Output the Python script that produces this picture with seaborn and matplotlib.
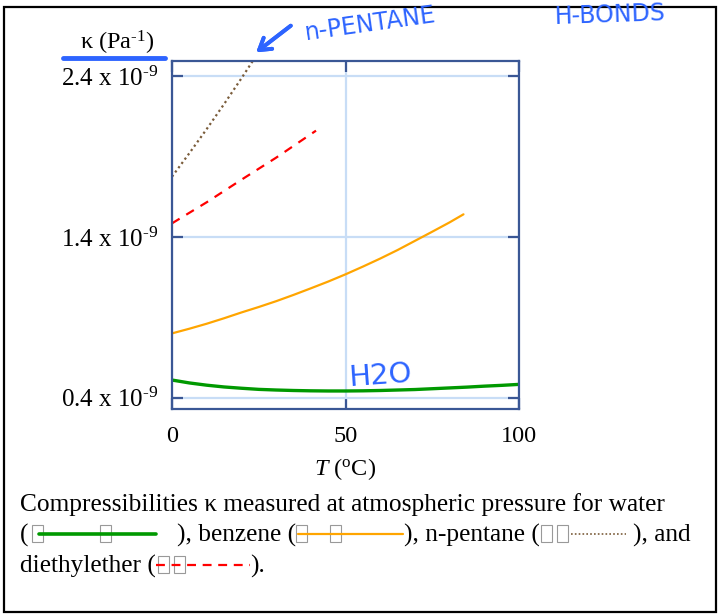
import seaborn as sns
import pandas as pd
import matplotlib.pyplot as plt
from matplotlib.lines import Line2D
from matplotlib.patches import Rectangle

# compressibility kappa, in units of 1e-9 Pa^-1, against temperature T (degC)
water_T = [0, 5, 10, 15, 20, 25, 30, 35, 40, 45, 50, 55, 60, 65, 70, 75, 80, 85, 90, 95, 100]
water_k = [0.510, 0.492, 0.478, 0.467, 0.459, 0.452, 0.448, 0.445, 0.443, 0.442, 0.442,
           0.443, 0.445, 0.448, 0.451, 0.456, 0.461, 0.466, 0.472, 0.477, 0.483]
benzene_T = [0, 5, 10, 15, 20, 25, 30, 35, 40, 45, 50, 55, 60, 65, 70, 75, 80, 84]
benzene_k = [0.800, 0.829, 0.860, 0.894, 0.930, 0.964, 1.000, 1.039, 1.080, 1.122, 1.167,
             1.215, 1.265, 1.318, 1.375, 1.432, 1.490, 1.540]
pentane_T = [0, 5, 10, 15, 20, 25]
pentane_k = [1.774, 1.920, 2.070, 2.225, 2.385, 2.550]
ether_T = [0, 10, 20, 30, 41.5]
ether_k = [1.484, 1.615, 1.755, 1.892, 2.060]

xticks = [0, 50, 100]
yticks = [0.4, 1.4, 2.4]
ytick_labels = ['0.4 x 10$^{\u20109}$', '1.4 x 10$^{\u20109}$', '2.4 x 10$^{\u20109}$']

sns.set_style('white')
plt.rcParams['font.family'] = ['Liberation Serif', 'DejaVu Sans']
plt.rcParams['mathtext.fontset'] = 'custom'
plt.rcParams['mathtext.rm'] = 'Liberation Serif'
plt.rcParams['mathtext.it'] = 'Liberation Serif:italic'
plt.rcParams['text.color'] = 'black'
plt.rcParams['axes.labelcolor'] = 'black'
plt.rcParams['xtick.labelcolor'] = 'black'
plt.rcParams['ytick.labelcolor'] = 'black'

W, H = 719, 614
spine_blue = '#3a5795'
grid_blue = '#c8ddf6'
ink = '#2d64ff'

fig = plt.figure(figsize=(W / 100, H / 100), dpi=100)
ax = fig.add_axes([172 / W, 1 - 409 / H, 347 / W, 348 / H])

def px(x, y):
    return (x / W, 1 - y / H)

sns.lineplot(x=water_T, y=water_k, color='#009900', lw=2.4, ax=ax)
sns.lineplot(x=benzene_T, y=benzene_k, color='#ffa500', lw=1.6, ax=ax)
sns.lineplot(x=ether_T, y=ether_k, color='#ff0000', lw=1.6, ax=ax).lines[-1].set_dashes([4, 3.5])
sns.lineplot(x=pentane_T, y=pentane_k, color='#7a5c3a', lw=1.6, ax=ax).lines[-1].set_dashes([1, 1.4])

ax.set_xlim(0, 100)
ax.set_ylim(0.33, 2.493)
ax.set_xticks(xticks)
ax.set_xticklabels([str(t) for t in xticks])
ax.set_yticks(yticks)
ax.set_yticklabels(ytick_labels)
ax.set_axisbelow(True)
ax.grid(True, color=grid_blue, lw=1.6)
for s in ax.spines.values():
    s.set_color(spine_blue)
    s.set_linewidth(1.6)
ax.tick_params(axis='y', direction='in', length=8, width=1.6, color=spine_blue,
               left=True, right=True, pad=10, labelsize=18)
ax.tick_params(axis='x', direction='in', length=8, width=1.6, color=spine_blue,
               top=True, bottom=True, pad=12, labelsize=17.5)

ax.set_xlabel('$\\mathit{T}$ ($^{\\rm o}$C)', fontsize=17.5, labelpad=7)
ax.set_ylabel('\u03ba (Pa$^{\u20101}$)', fontsize=17.5, rotation=0, ha='center', va='center')
ax.yaxis.set_label_coords(-0.159, 1.052)

# outer frame
fig.patches.append(Rectangle(px(3.5, 612), 712.5 / W, 605 / H, transform=fig.transFigure,
                             fill=False, ec='black', lw=1.6))

# caption
cap = dict(fontsize=18.3, va='baseline', ha='left')
def txt(x, y, s):
    fig.text(*px(x, y), s, **cap)

def box(x, y):
    fig.patches.append(Rectangle(px(x, y + 17), 11 / W, 17 / H, transform=fig.transFigure,
                                 fill=False, ec='#999999', lw=0.8))

def sample(x0, x1, y, color, lw, dashes=None):
    ln = Line2D([x0 / W, x1 / W], [1 - y / H, 1 - y / H], transform=fig.transFigure,
                color=color, lw=lw)
    if dashes:
        ln.set_dashes(dashes)
    fig.lines.append(ln)

txt(20, 511, 'Compressibilities \u03ba measured at atmospheric pressure for water')
txt(20, 542, '(')
box(32, 525); box(100, 525)
sample(39, 156, 534, '#009900', 2.6)
txt(177, 542, '), benzene (')
box(296, 525); box(330, 525)
sample(298, 403, 534, '#ffa500', 1.6)
txt(404, 542, '), n-pentane (')
box(541, 525); box(557, 525)
sample(571, 626, 534, '#7a5c3a', 1.2, [1, 1.3])
txt(633, 542, '), and')
txt(20, 573, 'diethylether (')
box(158, 556); box(174, 556)
sample(156, 250, 565, '#ff0000', 1.6, [4, 3])
txt(250, 573, ').')

# handwritten notes
hand = dict(color=ink, family='DejaVu Sans', rotation_mode='anchor', va='baseline', ha='left')
fig.text(*px(306, 40), 'n-PENTANE', fontsize=17, rotation=8, **hand)
fig.text(*px(555, 24), 'H-BONDS', fontsize=17, rotation=2, **hand)
fig.text(*px(349, 386), 'H2O', fontsize=21, rotation=4, **hand)
fig.add_artist(plt.annotate('', xy=px(254, 54), xytext=px(293, 24), xycoords='figure fraction',
                            textcoords='figure fraction',
                            arrowprops=dict(arrowstyle='->,head_length=0.8,head_width=0.5',
                                            color=ink, lw=2.8)))
fig.lines.append(Line2D([63 / W, 165 / W], [1 - 58 / H, 1 - 58 / H], transform=fig.transFigure,
                        color=ink, lw=3.5, solid_capstyle='round'))

fig.savefig('out.png', dpi=100)
